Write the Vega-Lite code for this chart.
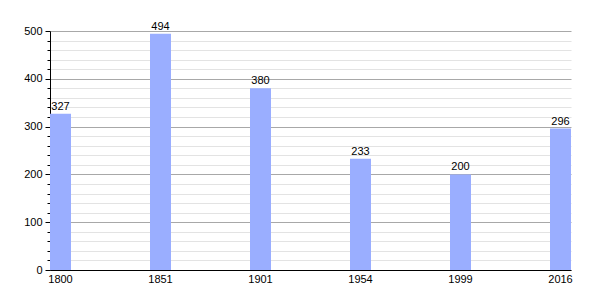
{
  "$schema": "https://vega.github.io/schema/vega-lite/v6.json",
  "width": 521,
  "height": 239,
  "autosize": "none",
  "padding": {"left": 50, "top": 31, "right": 29, "bottom": 30},
  "background": "white",
  "config": {
    "view": {"stroke": null},
    "font": "Liberation Sans",
    "axis": {"labelFont": "Liberation Sans", "labelFontSize": 11, "labelColor": "#000"}
  },
  "data": {
    "values": [
      {"year": "1800", "pop": 327},
      {"year": "1851", "pop": 494},
      {"year": "1901", "pop": 380},
      {"year": "1954", "pop": 233},
      {"year": "1999", "pop": 200},
      {"year": "2016", "pop": 296}
    ]
  },
  "encoding": {
    "x": {
      "field": "year",
      "type": "ordinal",
      "sort": null,
      "scale": {"paddingInner": 0.79, "paddingOuter": 0},
      "axis": {
        "title": null,
        "labelAngle": 0,
        "ticks": false,
        "labelPadding": 3,
        "domainColor": "#000",
        "domainWidth": 1,
        "grid": false
      }
    }
  },
  "layer": [
    {
      "mark": {"type": "rule", "opacity": 0},
      "encoding": {
        "y": {
          "field": "pop",
          "type": "quantitative",
          "scale": {"domain": [0, 500], "nice": false},
          "axis": {
            "title": null,
            "orient": "left",
            "values": [20, 40, 60, 80, 120, 140, 160, 180, 220, 240, 260, 280, 320, 340, 360, 380, 420, 440, 460, 480],
            "labels": false,
            "domain": false,
            "tickSize": 3,
            "tickColor": "#000",
            "grid": true,
            "gridColor": "#e3e3e3",
            "gridWidth": 1,
            "zindex": 0
          }
        }
      }
    },
    {
      "mark": {"type": "bar", "color": "#9aaeff"},
      "encoding": {
        "y": {
          "field": "pop",
          "type": "quantitative",
          "scale": {"domain": [0, 500], "nice": false},
          "axis": {
            "title": null,
            "orient": "left",
            "values": [0, 100, 200, 300, 400, 500],
            "domainColor": "#000",
            "tickColor": "#000",
            "tickSize": 5,
            "labelPadding": 3,
            "grid": true,
            "gridColor": "#a8a8a8",
            "gridWidth": 1,
            "zindex": 0
          }
        }
      }
    },
    {
      "mark": {"type": "text", "dy": -7, "fontSize": 11, "color": "#000", "font": "Liberation Sans"},
      "encoding": {
        "y": {"field": "pop", "type": "quantitative", "axis": null},
        "text": {"field": "pop", "type": "quantitative"}
      }
    }
  ],
  "resolve": {"axis": {"y": "independent"}}
}
